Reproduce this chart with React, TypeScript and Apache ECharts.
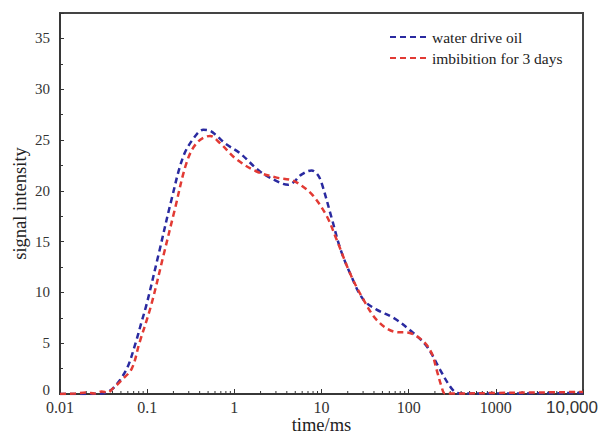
import React, { useEffect, useRef } from "react";
import * as echarts from "echarts";

const seriesNames = ["water drive oil", "imbibition for 3 days"];

const waterTime = [0.01, 0.02, 0.03, 0.035, 0.04, 0.045, 0.05, 0.06, 0.073, 0.085, 0.099, 0.134, 0.191, 0.26, 0.35, 0.44, 0.53, 0.63, 0.8, 1.16, 1.97, 3.34, 4.16, 5.0, 5.66, 7.7, 9.0, 10, 13.1, 16.3, 21.2, 30.1, 42.9, 66.7, 103, 161, 229, 285, 340, 400, 1000, 10000];
const waterSignal = [0, 0, 0.05, 0.2, 0.5, 1.0, 1.5, 2.7, 4.9, 6.9, 8.9, 13.6, 19.2, 23.4, 25.3, 26.0, 25.9, 25.4, 24.6, 23.7, 21.9, 20.8, 20.6, 21.0, 21.5, 22.0, 21.6, 20.8, 17.3, 14.4, 11.9, 9.3, 8.3, 7.5, 6.3, 4.7, 2.4, 1.0, 0.2, 0.05, 0.05, 0.1];

const imbTime = [0.01, 0.015, 0.02, 0.025, 0.03, 0.035, 0.04, 0.05, 0.0666, 0.0813, 0.11, 0.153, 0.208, 0.284, 0.37, 0.526, 0.684, 1.06, 1.8, 3.06, 4.55, 5.93, 8.05, 11.5, 14.9, 21.2, 28.9, 42.9, 66.7, 103, 147, 184, 209, 239, 261, 400, 1000, 3000, 10000];
const imbSignal = [0, 0.05, 0.15, 0.05, 0.25, 0.15, 0.5, 1.3, 2.5, 5.0, 8.6, 13.55, 18.2, 22.8, 24.7, 25.4, 24.7, 23.1, 21.9, 21.3, 21.05, 20.5, 19.5, 17.5, 15.2, 11.9, 9.6, 7.3, 6.15, 6.0, 5.2, 4.0, 2.4, 0.7, 0.05, 0.05, 0.1, 0.15, 0.2];

const xTickLabels = ["0.01", "0.1", "1", "10", "100", "1000", "10,000"];
const xDecades = [0.01, 0.1, 1, 10, 100, 1000];
const minorMultipliers = [2, 3, 4, 5, 6, 7, 8, 9];

const SERIF = "'Liberation Serif', 'Times New Roman', serif";
const SANS = "'Liberation Sans', Arial, sans-serif";

export default function App() {
  const ref = useRef<HTMLDivElement>(null);
  useEffect(() => {
    if (!ref.current) return;
    document.body.style.margin = "0";
    document.body.style.overflow = "hidden";
    const chart = echarts.init(ref.current, undefined, { renderer: "svg" });
    const minorTicks: number[][] = [];
    xDecades.forEach((d) => minorMultipliers.forEach((m) => minorTicks.push([d * m, 0])));

    chart.setOption({
      animation: false,
      backgroundColor: "#ffffff",
      grid: {
        left: 60,
        right: 19,
        top: 13,
        bottom: 41,
        outerBoundsMode: "none",
        containLabel: false,
        show: true,
        borderColor: "#444",
        borderWidth: 2,
      },
      legend: {
        orient: "vertical",
        left: 384,
        top: 24,
        itemWidth: 37,
        itemHeight: 10,
        itemGap: 5,
        data: seriesNames,
        itemStyle: { opacity: 0 },
        textStyle: { fontFamily: SERIF, fontSize: 15.5, color: "#222" },
      },
      xAxis: {
        type: "log",
        logBase: 10,
        min: 0.01,
        max: 10000,
        splitNumber: 6,
        name: "time/ms",
        nameLocation: "middle",
        nameGap: 22,
        nameMoveOverlap: false,
        nameTextStyle: { fontFamily: SERIF, fontSize: 18.5, lineHeight: 18, color: "#222" },
        axisLine: { lineStyle: { color: "#333", width: 1.5 } },
        axisTick: { inside: true, length: 5, lineStyle: { color: "#333" } },
        splitLine: { show: false },
        axisLabel: {
          margin: 7,
          fontFamily: SERIF,
          fontSize: 16,
          lineHeight: 12,
          color: "#333",
          formatter: (v: number) => {
            const i = Math.round(Math.log10(v)) + 2;
            const s = xTickLabels[i] ?? "";
            return i === 6 ? "{s|" + s + "}" : s;
          },
          rich: { s: { fontFamily: SANS, fontSize: 17, lineHeight: 12, color: "#333", padding: [0, 22, 0, 0] } },
        },
      },
      yAxis: {
        type: "value",
        min: 0,
        max: 37.5,
        interval: 5,
        name: "signal intensity",
        nameLocation: "middle",
        nameGap: 31,
        nameMoveOverlap: false,
        nameTextStyle: { fontFamily: SERIF, fontSize: 18.5, color: "#222" },
        axisLine: { show: true, lineStyle: { color: "#333", width: 1.5 } },
        axisTick: { inside: true, length: 4, lineStyle: { color: "#333" } },
        minorTick: { show: true, splitNumber: 2, length: 3, lineStyle: { color: "#333" } },
        splitLine: { show: false },
        axisLabel: {
          margin: 10,
          showMaxLabel: false,
          fontFamily: SERIF,
          fontSize: 15,
          lineHeight: 11,
          color: "#333",
          formatter: (v: number) => (v === 0 ? "{z|0}" : String(v)),
          rich: { z: { fontFamily: SERIF, fontSize: 15, lineHeight: 11, color: "#333", padding: [0, 0, 8, 0] } },
        },
      },
      series: [
        {
          name: seriesNames[0],
          type: "line",
          data: waterTime.map((t, i) => [t, waterSignal[i]]),
          smooth: 0.35,
          symbol: "none",
          color: "#2a2aa0",
          lineStyle: { color: "#2a2aa0", width: 2.5, type: [6, 4] },
          z: 3,
        },
        {
          name: seriesNames[1],
          type: "line",
          data: imbTime.map((t, i) => [t, imbSignal[i]]),
          smooth: 0.35,
          symbol: "none",
          color: "#e23a34",
          lineStyle: { color: "#e23a34", width: 2.5, type: [6, 4] },
          z: 4,
        },
        {
          name: "minorTicks",
          type: "custom",
          data: minorTicks,
          silent: true,
          z: 2,
          renderItem: (params: any, api: any) => {
            const p = api.coord([api.value(0), 0]);
            return {
              type: "line",
              shape: { x1: p[0], y1: p[1], x2: p[0], y2: p[1] - 3 },
              style: { stroke: "#333", lineWidth: 1 },
            };
          },
        },
      ],
    });
    return () => chart.dispose();
  }, []);
  return <div ref={ref} style={{ width: 602, height: 435 }} />;
}
